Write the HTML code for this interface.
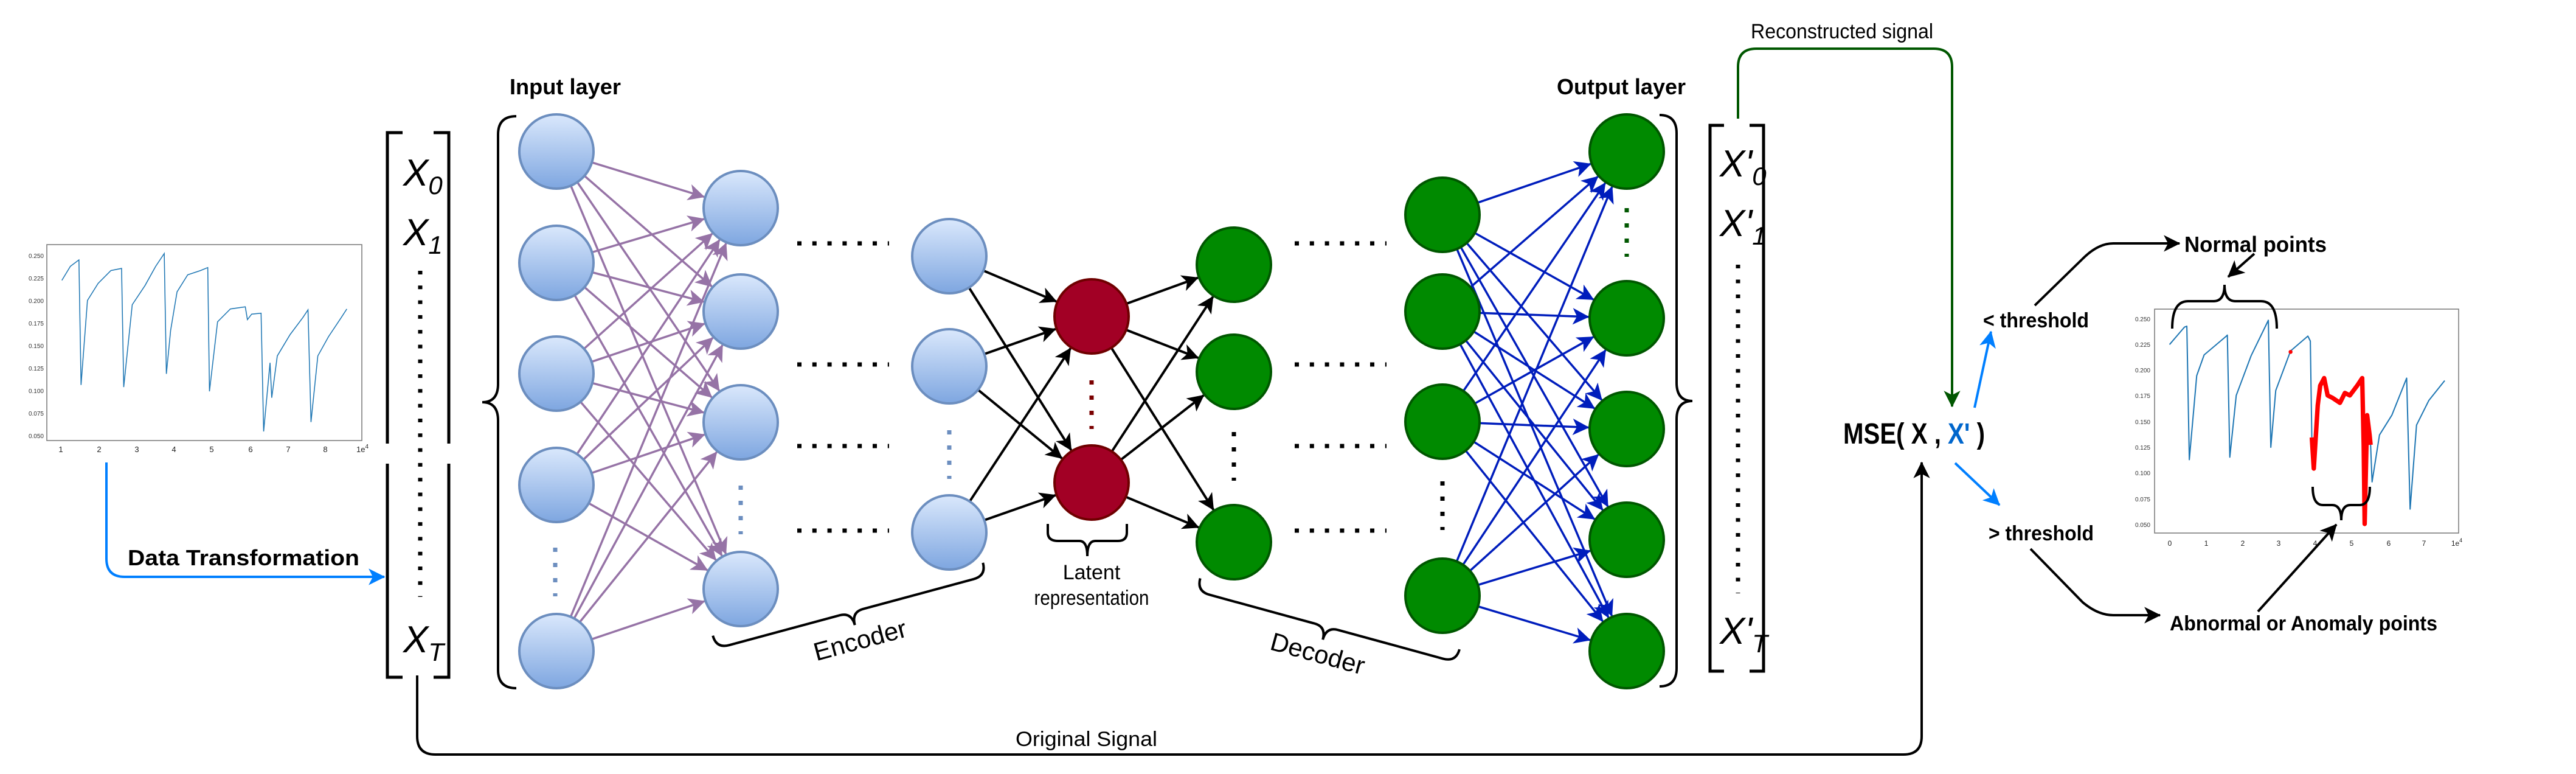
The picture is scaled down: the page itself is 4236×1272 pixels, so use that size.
<!DOCTYPE html>
<html><head><meta charset="utf-8"><style>
html,body{margin:0;padding:0;background:#fff;width:4236px;height:1272px;overflow:hidden}
svg{display:block}
text{font-family:"Liberation Sans",sans-serif}
</style></head><body>
<svg id="s" width="4236" height="1272" viewBox="0 0 4236 1272" xmlns="http://www.w3.org/2000/svg">
<defs>
<linearGradient id="bg" x1="0" y1="0" x2="0" y2="1"><stop offset="0" stop-color="#dae8fc"/><stop offset="1" stop-color="#7ea6e0"/></linearGradient>
<marker id="mp" viewBox="0 0 10 10" refX="9" refY="5" markerWidth="7" markerHeight="7" markerUnits="userSpaceOnUse" orient="auto" style="overflow:visible"><path d="M0,0 L39,19.5 L0,39 L10,19.5z" fill="#9673a6" transform="translate(-28,-14.5)"/></marker>
<marker id="mk" viewBox="0 0 10 10" refX="9" refY="5" markerWidth="7" markerHeight="7" markerUnits="userSpaceOnUse" orient="auto" style="overflow:visible"><path d="M0,0 L39,19.5 L0,39 L10,19.5z" fill="#000" transform="translate(-28,-14.5)"/></marker>
<marker id="mb" viewBox="0 0 10 10" refX="9" refY="5" markerWidth="7" markerHeight="7" markerUnits="userSpaceOnUse" orient="auto" style="overflow:visible"><path d="M0,0 L39,19.5 L0,39 L10,19.5z" fill="#001dbc" transform="translate(-28,-14.5)"/></marker>
<marker id="ml" viewBox="0 0 10 10" refX="9" refY="5" markerWidth="7" markerHeight="7" markerUnits="userSpaceOnUse" orient="auto" style="overflow:visible"><path d="M0,0 L39,19.5 L0,39 L10,19.5z" fill="#007fff" transform="translate(-28,-14.5)"/></marker>
<marker id="mg" viewBox="0 0 10 10" refX="9" refY="5" markerWidth="7" markerHeight="7" markerUnits="userSpaceOnUse" orient="auto" style="overflow:visible"><path d="M0,0 L39,19.5 L0,39 L10,19.5z" fill="#005700" transform="translate(-28,-14.5)"/></marker>
</defs>
<g id="edges"></g>

<rect x="77" y="402" width="518" height="322" fill="#fff" stroke="#777" stroke-width="1.5"/>
<g font-size="10" fill="#333" text-anchor="end">
<text x="72" y="424">0.250</text><text x="72" y="461">0.225</text><text x="72" y="498">0.200</text><text x="72" y="535">0.175</text><text x="72" y="572">0.150</text><text x="72" y="609">0.125</text><text x="72" y="646">0.100</text><text x="72" y="683">0.075</text><text x="72" y="720">0.050</text>
</g>
<g font-size="13" fill="#222" text-anchor="middle">
<text x="100" y="743">1</text><text x="163" y="743">2</text><text x="225" y="743">3</text><text x="286" y="743">4</text><text x="348" y="743">5</text><text x="412" y="743">6</text><text x="474" y="743">7</text><text x="535" y="743">8</text><text x="596" y="743">1e<tspan dy="-6" font-size="10">4</tspan></text>
</g>
<polyline fill="none" stroke="#1f77b4" stroke-width="2.2" points="145,443 165,410 185,395 190,688 205,490 230,450 260,420 285,415 290,693 310,500 340,455 365,410 385,380 390,662 400,560 415,470 440,430 470,420 487,413 491,703 510,540 540,510 575,505 580,535 590,522 612,520 618,797 633,636 637,718 650,620 680,570 710,530 722,512 729,775 745,620 770,575 800,530 813,510" transform="translate(0,150) scale(0.7015)"/>

<path d="M175,760 L175,918 Q175,948 205,948 L632,948" fill="none" stroke="#007fff" stroke-width="4" marker-end="url(#ml)"/>
<text x="210" y="929" font-size="36" font-weight="bold" textLength="381" lengthAdjust="spacingAndGlyphs">Data Transformation</text>

<g fill="none" stroke="#000" stroke-width="5">
<path d="M662,218 L637,218 L637,729"/><path d="M637,762 L637,1113 L662,1113"/>
<path d="M713,218 L738,218 L738,729"/><path d="M738,762 L738,1113 L713,1113"/>
</g>
<g font-size="62" font-style="italic">
<text x="663" y="305">X<tspan font-size="42" dy="14">0</tspan></text>
<text x="663" y="403">X<tspan font-size="42" dy="14">1</tspan></text>
<text x="663" y="1072">X<tspan font-size="42" dy="14">T</tspan></text>
</g>
<path d="M691,445 L691,981" stroke="#000" stroke-width="7" stroke-dasharray="6,18.3"/>
<path d="M686,1110 L686,1210 Q686,1240 716,1240 L3130,1240 Q3160,1240 3160,1210 L3160,760" fill="none" stroke="#000" stroke-width="4" marker-end="url(#mk)"/>
<text x="1670" y="1226" font-size="34" textLength="233" lengthAdjust="spacingAndGlyphs">Original Signal</text>

<text x="838" y="155" font-size="36" font-weight="bold" textLength="183" lengthAdjust="spacingAndGlyphs">Input layer</text>
<path d="M849,191 Q819,191 819,221 L819,631 Q819,661 793,661 Q819,661 819,691 L819,1101 Q819,1131 849,1131" fill="none" stroke="#000" stroke-width="4"/>
<g id="nodes"></g>

<g stroke-width="7" fill="none">
<path d="M913,900 L913,980" stroke="#6c8ebf" stroke-dasharray="7,18"/>
<path d="M1218,798 L1218,878" stroke="#6c8ebf" stroke-dasharray="7,18"/>
<path d="M1561,707 L1561,787" stroke="#6c8ebf" stroke-dasharray="7,18"/>
<path d="M1795,625 L1795,705" stroke="#7a0000" stroke-dasharray="7,18"/>
<path d="M2029,710 L2029,790" stroke="#000" stroke-dasharray="7,18"/>
<path d="M2372,791 L2372,871" stroke="#000" stroke-dasharray="7,18"/>
<path d="M2675,342 L2675,422" stroke="#005700" stroke-dasharray="7,18"/>
<g stroke="#000" stroke-dasharray="7,17.8">
<path d="M1311,400 L1462,400"/><path d="M1311,599 L1462,599"/><path d="M1311,733 L1462,733"/><path d="M1311,872 L1462,872"/>
<path d="M2129,400 L2280,400"/><path d="M2129,599 L2280,599"/><path d="M2129,733 L2280,733"/><path d="M2129,872 L2280,872"/>
</g>
</g>

<path d="M1723,861 L1723,875 Q1723,889 1740,889 L1775,889 Q1788,889 1788,914 Q1788,889 1801,889 L1838,889 Q1853,889 1853,875 L1853,861" fill="none" stroke="#000" stroke-width="4"/>
<text x="1795" y="952" font-size="34" text-anchor="middle">Latent</text>
<text x="1795" y="994" font-size="34" text-anchor="middle" textLength="189" lengthAdjust="spacingAndGlyphs">representation</text>

<g fill="none" stroke="#000" stroke-width="4">
<path transform="translate(1400,1006) rotate(-15.1)" d="M-230,-22 Q-230,0 -208,0 L-20,0 Q0,0 0,22 Q0,0 20,0 L208,0 Q230,0 230,-22"/>
<path transform="translate(2181,1030) rotate(15.3)" d="M-221,-22 Q-221,0 -199,0 L-20,0 Q0,0 0,22 Q0,0 20,0 L199,0 Q221,0 221,-22"/>
</g>
<text transform="translate(1418,1066) rotate(-15.1)" font-size="42" text-anchor="middle">Encoder</text>
<text transform="translate(2163,1088) rotate(15.3)" font-size="42" text-anchor="middle">Decoder</text>

<text x="2560" y="155" font-size="36" font-weight="bold" textLength="212" lengthAdjust="spacingAndGlyphs">Output layer</text>
<path d="M2729,189 Q2757,189 2757,219 L2757,629 Q2757,659 2783,659 Q2757,659 2757,689 L2757,1098 Q2757,1128 2729,1128" fill="none" stroke="#000" stroke-width="4"/>

<g fill="none" stroke="#000" stroke-width="5">
<path d="M2835,206 L2812,206 L2812,1103 L2835,1103"/>
<path d="M2877,206 L2900,206 L2900,1103 L2877,1103"/>
</g>
<g font-size="62" font-style="italic">
<text x="2828" y="290">X'<tspan font-size="42" dy="14">0</tspan></text>
<text x="2828" y="388">X'<tspan font-size="42" dy="14">1</tspan></text>
<text x="2828" y="1058">X'<tspan font-size="42" dy="14">T</tspan></text>
</g>
<path d="M2858,435 L2858,975" stroke="#000" stroke-width="7" stroke-dasharray="6,18.5"/>

<path d="M2858,195 L2858,110 Q2858,80 2888,80 L3180,80 Q3210,80 3210,110 L3210,668" fill="none" stroke="#005700" stroke-width="4" marker-end="url(#mg)"/>
<text x="2879" y="63" font-size="34" textLength="300" lengthAdjust="spacingAndGlyphs">Reconstructed signal</text>

<text x="3031" y="729" font-size="48" font-weight="bold" textLength="233" lengthAdjust="spacingAndGlyphs">MSE( X , <tspan fill="#0066cc">X'</tspan> )</text>

<path d="M3247,670 L3274,545" stroke="#007fff" stroke-width="4" marker-end="url(#ml)"/>
<path d="M3215,761 L3288,830" stroke="#007fff" stroke-width="4" marker-end="url(#ml)"/>
<text x="3261" y="538" font-size="34" font-weight="bold" textLength="174" lengthAdjust="spacingAndGlyphs">&lt; threshold</text>
<text x="3270" y="888" font-size="34" font-weight="bold" textLength="173" lengthAdjust="spacingAndGlyphs">&gt; threshold</text>

<path d="M3346,502 L3425,425 Q3450,400 3475,400 L3584,400" fill="none" stroke="#000" stroke-width="4" marker-end="url(#mk)"/>
<path d="M3339,902 L3425,990 Q3450,1011 3475,1011 L3552,1011" fill="none" stroke="#000" stroke-width="4" marker-end="url(#mk)"/>
<text x="3592" y="414" font-size="36" font-weight="bold" textLength="234" lengthAdjust="spacingAndGlyphs">Normal points</text>
<text x="3568" y="1036" font-size="34" font-weight="bold" textLength="440" lengthAdjust="spacingAndGlyphs">Abnormal or Anomaly points</text>

<rect x="3543" y="508" width="500" height="368" fill="#fff" stroke="#777" stroke-width="1.5"/>
<g font-size="10" fill="#333" text-anchor="end">
<text x="3536" y="528">0.250</text><text x="3536" y="570">0.225</text><text x="3536" y="612">0.200</text><text x="3536" y="654">0.175</text><text x="3536" y="697">0.150</text><text x="3536" y="739">0.125</text><text x="3536" y="781">0.100</text><text x="3536" y="824">0.075</text><text x="3536" y="866">0.050</text>
</g>
<g font-size="12" fill="#222" text-anchor="middle">
<text x="3568" y="897">0</text><text x="3628" y="897">1</text><text x="3688" y="897">2</text><text x="3747" y="897">3</text><text x="3807" y="897">4</text><text x="3867" y="897">5</text><text x="3928" y="897">6</text><text x="3986" y="897">7</text><text x="4040" y="897">1e<tspan dy="-6" font-size="9">4</tspan></text>
</g>
<g transform="translate(2800,0) scale(0.8123)" fill="none" stroke-linejoin="round">
<polyline stroke="#1f77b4" stroke-width="2.5" points="945,697 975,662 980,660 985,930 1000,760 1015,718 1060,680 1062,678 1067,925 1080,800 1110,720 1145,648 1150,905 1160,790 1190,710 1225,680 1230,690 1233,885"/>
<polyline stroke="#ff0000" stroke-width="9" points="1233,885 1237,948 1245,820 1250,780 1258,765 1265,800 1275,805 1290,815 1300,795 1310,800 1325,780 1335,765 1338,900 1340,1060 1345,840 1350,880 1352,900"/>
<circle cx="1190" cy="712" r="4" fill="#ff0000"/>
<polyline stroke="#1f77b4" stroke-width="2.5" points="1352,900 1355,975 1370,880 1395,840 1425,765 1432,1030 1445,860 1470,810 1502,770"/>
</g>
<g fill="none" stroke="#000" stroke-width="4">
<path transform="translate(3658,495) rotate(180)" d="M-86,-45 Q-86,0 -60,0 L-18,0 Q0,0 0,27 Q0,0 18,0 L60,0 Q86,0 86,-45"/>
<path transform="translate(3850,830)" d="M-47,-30 Q-47,0 -30,0 L-15,0 Q0,0 0,25 Q0,0 15,0 L30,0 Q47,0 47,-30"/>
</g>
<path d="M3707,417 L3664,455" stroke="#000" stroke-width="4" marker-end="url(#mk)"/>
<path d="M3713,1005 L3842,862" stroke="#000" stroke-width="4" marker-end="url(#mk)"/>
</svg>
<script>
(function(){
var NS="http://www.w3.org/2000/svg",E=document.getElementById('edges'),N=document.getElementById('nodes');
var R=61;
var inp=[249,432,614,797,1070].map(function(y){return[915,y]});
var l2=[342,512,694,968].map(function(y){return[1218,y]});
var l3=[421,602,875].map(function(y){return[1561,y]});
var lat=[520,793].map(function(y){return[1795,y]});
var g1=[435,611,891].map(function(y){return[2029,y]});
var g2=[353,512,693,979].map(function(y){return[2372,y]});
var out=[249,523,705,887,1070].map(function(y){return[2675,y]});
function edges(A,B,col,m,w){A.forEach(function(a){B.forEach(function(b){
var dx=b[0]-a[0],dy=b[1]-a[1],d=Math.sqrt(dx*dx+dy*dy);
var l=document.createElementNS(NS,'line');
l.setAttribute('x1',a[0]+dx/d*R);l.setAttribute('y1',a[1]+dy/d*R);
l.setAttribute('x2',b[0]-dx/d*(R+2));l.setAttribute('y2',b[1]-dy/d*(R+2));
l.setAttribute('stroke',col);l.setAttribute('stroke-width',w);l.setAttribute('marker-end','url(#'+m+')');E.appendChild(l);})})}
edges(inp,l2,'#9673a6','mp',3.5);
edges(l3,lat,'#000','mk',4);
edges(lat,g1,'#000','mk',4);
edges(g2,out,'#001dbc','mb',3.5);
function nodes(A,fill,st){A.forEach(function(a){var c=document.createElementNS(NS,'circle');c.setAttribute('cx',a[0]);c.setAttribute('cy',a[1]);c.setAttribute('r',R);c.setAttribute('fill',fill);c.setAttribute('stroke',st);c.setAttribute('stroke-width',4);N.appendChild(c);})}
nodes(inp.concat(l2,l3),'url(#bg)','#6c8ebf');
nodes(lat,'#a20025','#6f0000');
nodes(g1.concat(g2,out),'#008a00','#005700');
})();
</script>
</body></html>
